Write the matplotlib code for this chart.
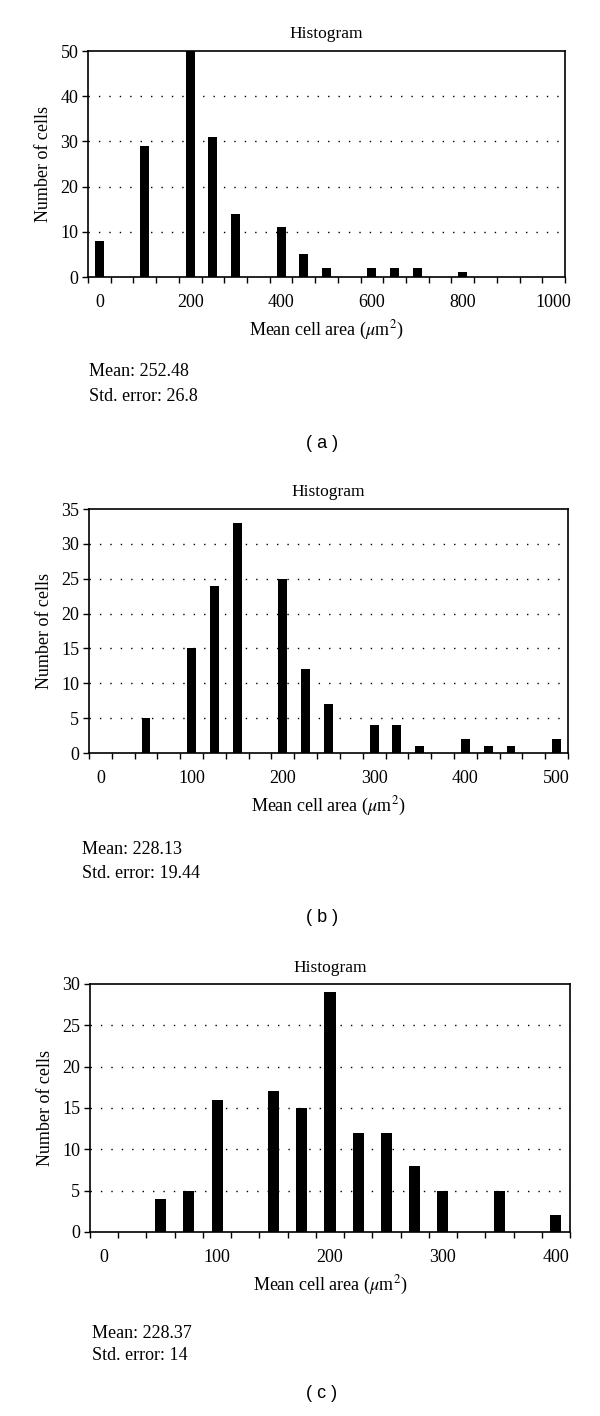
import matplotlib.pyplot as plt
import numpy as np

# bin centres and counts
bins_a = np.arange(0, 1001, 50)
counts_a = [8, 0, 29, 0, 50, 31, 14, 0, 11, 5, 2, 0, 2, 2, 2, 0, 1, 0, 0, 0, 0]

bins_b = np.arange(0, 501, 25)
counts_b = [0, 0, 5, 0, 15, 24, 33, 0, 25, 12, 7, 0, 4, 4, 1, 0, 2, 1, 1, 0, 2]

bins_c = np.arange(0, 401, 25)
counts_c = [0, 0, 4, 5, 16, 0, 17, 15, 29, 12, 12, 8, 5, 0, 5, 0, 2]

xticks_a = [0, 200, 400, 600, 800, 1000]
xticks_b = [0, 100, 200, 300, 400, 500]
xticks_c = [0, 100, 200, 300, 400]

ylim_a, ystep_a = 50, 10
ylim_b, ystep_b = 35, 5
ylim_c, ystep_c = 30, 5

means = ["Mean: 252.48", "Mean: 228.13", "Mean: 228.37"]
errors = ["Std. error: 26.8", "Std. error: 19.44", "Std. error: 14"]
tags = ["( a )", "( b )", "( c )"]

W, H = 600, 1416
fig = plt.figure(figsize=(W / 100, H / 100), dpi=100)
plt.rcParams['font.family'] = ['Liberation Serif', 'DejaVu Serif']
plt.rcParams['mathtext.fontset'] = 'stix'

# axes boxes in pixels: left, top, right, bottom
boxes = [(88, 51, 565, 277), (89, 509, 568, 753), (90, 984, 570, 1232)]
text_x = [89, 82, 92]
# vertical offsets below the axes for mean, std. error and panel tag
offs = [(95, 120, 166), (97, 121, 165), (101, 123, 161)]
panels = [(bins_a, counts_a, xticks_a, ylim_a, ystep_a),
          (bins_b, counts_b, xticks_b, ylim_b, ystep_b),
          (bins_c, counts_c, xticks_c, ylim_c, ystep_c)]

for i, (bins, counts, xt, ymax, ystep) in enumerate(panels):
    l, t, r, b = boxes[i]
    ax = fig.add_axes([l / W, 1 - b / H, (r - l) / W, (b - t) / H])
    step = bins[1] - bins[0]
    ax.bar(bins, counts, width=0.39 * step, color='black', zorder=3)
    ax.set_xlim(bins[0] - step / 2, bins[-1] + step / 2)
    ax.set_ylim(0, ymax)
    yt = np.arange(0, ymax + 1, ystep)
    ax.set_yticks(yt)
    for y in yt[1:-1]:
        ax.axhline(y, color='black', linestyle=(0, (1, 6.5)), linewidth=1, zorder=1)
    ax.set_xticks(xt)
    ax.set_xticks(np.arange(bins[0] - step / 2, bins[-1] + step, step), minor=True)
    ax.tick_params(axis='x', which='major', length=0, pad=12, labelsize=13)
    ax.tick_params(axis='x', which='minor', length=4, direction='out', width=1)
    ax.tick_params(axis='y', length=4, direction='out', width=1, labelsize=13, pad=3)
    for s in ax.spines.values():
        s.set_linewidth(1.2)
    ax.set_title("Histogram", fontsize=12.5, pad=9)
    ax.set_ylabel("Number of cells", fontsize=13, labelpad=6)
    ax.set_xlabel(r"Mean cell area ($\mu$m$^2$)", fontsize=13, labelpad=6)

    om, os_, ot = offs[i]
    fig.text(text_x[i] / W, 1 - (b + om) / H, means[i], fontsize=13, va='center')
    fig.text(text_x[i] / W, 1 - (b + os_) / H, errors[i], fontsize=13, va='center')
    fig.text(322 / W, 1 - (b + ot) / H, tags[i], fontsize=13, va='center',
             ha='center', family=['Liberation Sans', 'DejaVu Sans'])

plt.savefig("out.png", dpi=100)
plt.close()
